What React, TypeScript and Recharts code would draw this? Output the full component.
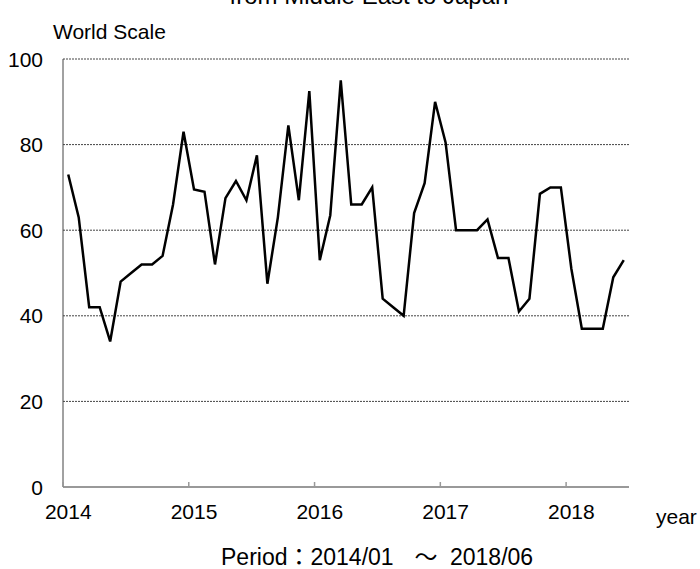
import React from 'react';
import { LineChart, Line, XAxis, YAxis, CartesianGrid } from 'recharts';

const months = [
  '2014/01','2014/02','2014/03','2014/04','2014/05','2014/06','2014/07','2014/08','2014/09','2014/10','2014/11','2014/12',
  '2015/01','2015/02','2015/03','2015/04','2015/05','2015/06','2015/07','2015/08','2015/09','2015/10','2015/11','2015/12',
  '2016/01','2016/02','2016/03','2016/04','2016/05','2016/06','2016/07','2016/08','2016/09','2016/10','2016/11','2016/12',
  '2017/01','2017/02','2017/03','2017/04','2017/05','2017/06','2017/07','2017/08','2017/09','2017/10','2017/11','2017/12',
  '2018/01','2018/02','2018/03','2018/04','2018/05','2018/06',
];

const worldScale = [
  73, 63, 42, 42, 34, 48, 50, 52, 52, 54, 66, 83,
  69.5, 69, 52, 67.5, 71.5, 67, 77.5, 47.5, 63, 84.5, 67, 92.5,
  53, 63.5, 95, 66, 66, 70, 44, 42, 40, 64, 71, 90,
  80.5, 60, 60, 60, 62.5, 53.5, 53.5, 41, 44, 68.5, 70, 70,
  51, 37, 37, 37, 49, 53,
];

const yearLabels = ['2014', '2015', '2016', '2017', '2018'];
const yTicks = [0, 20, 40, 60, 80, 100];

const data = months.map((m, i) => ({ month: m, pos: i + 0.5, value: worldScale[i] }));
const yearTickPositions = yearLabels.map((_, k) => k * 12 + 0.5);

const W = 700;
const H = 569;
const M_TOP = 59;
const M_RIGHT = 71;
const Y_W = 63;
const X_H = 82;
const PLOT_W = W - Y_W - M_RIGHT;
const HALF_BAND = PLOT_W / months.length / 2;
const FONT = '"Liberation Sans", Arial, "Noto Sans CJK JP", sans-serif';

const XTick = (props: any) => {
  const { x, y, payload } = props;
  const label = yearLabels[Math.round((payload.value - 0.5) / 12)];
  return (
    <g>
      <line x1={x - HALF_BAND} x2={x - HALF_BAND} y1={y - 5} y2={y} stroke="#999" strokeWidth={1.5} />
      <text x={x} y={y + 32} textAnchor="middle" fontSize={21} fontFamily={FONT} fill="#000">{label}</text>
    </g>
  );
};

const YTick = (props: any) => {
  const { x, y, payload } = props;
  return (
    <text x={x} y={y + 7.5} textAnchor="end" fontSize={21} fontFamily={FONT} fill="#000">{payload.value}</text>
  );
};

export default function App() {
  return (
    <div style={{ position: 'absolute', left: 0, top: 0, width: W, height: H, background: '#fff' }}>
      <LineChart width={W} height={H} data={data} margin={{ top: M_TOP, right: M_RIGHT, left: 0, bottom: 0 }}>
        <CartesianGrid vertical={false} stroke="#444" strokeDasharray="2 1" />
        <XAxis
          dataKey="pos"
          type="number"
          domain={[0, months.length]}
          ticks={yearTickPositions}
          height={X_H}
          tickSize={0}
          tickMargin={0}
          tickLine={false}
          axisLine={{ stroke: '#999', strokeWidth: 2 }}
          tick={<XTick />}
          interval={0}
        />
        <YAxis
          domain={[0, 100]}
          ticks={yTicks}
          width={Y_W}
          tickSize={0}
          tickMargin={20}
          tickLine={false}
          axisLine={{ stroke: '#444', strokeWidth: 1 }}
          tick={<YTick />}
          interval={0}
        />
        <Line
          type="linear"
          dataKey="value"
          stroke="#000"
          strokeWidth={2.5}
          dot={false}
          isAnimationActive={false}
        />
      </LineChart>
      <svg width={W} height={H} style={{ position: 'absolute', left: 0, top: 0, pointerEvents: 'none' }}>
        <text x={369} y={4} textAnchor="middle" fontSize={24} fontFamily={FONT} fill="#000">from Middle East to Japan</text>
        <text x={53} y={39} fontSize={21} fontFamily={FONT} fill="#000">World Scale</text>
        <text x={656} y={524} fontSize={21} fontFamily={FONT} fill="#000">year</text>
        <text y={565} fontSize={23} fontFamily={FONT} fill="#000">
          <tspan x={221}>Period：2014/01</tspan>
          <tspan x={426} textAnchor="middle">～</tspan>
          <tspan x={450}>2018/06</tspan>
        </text>
      </svg>
    </div>
  );
}
